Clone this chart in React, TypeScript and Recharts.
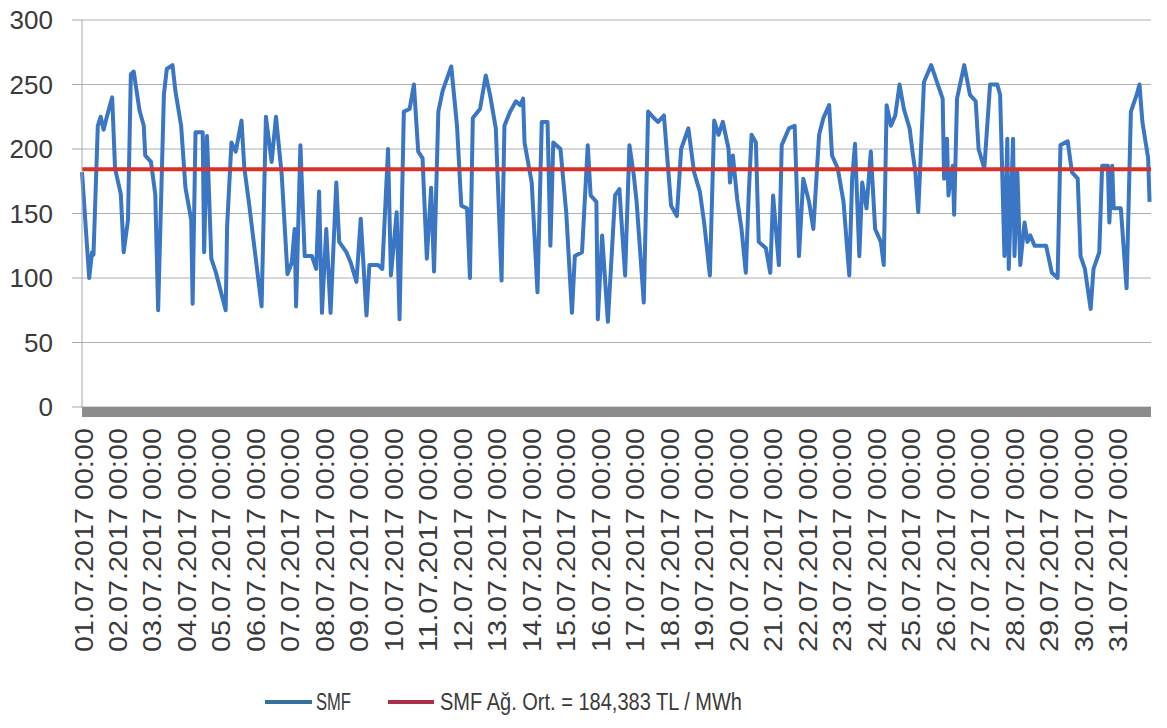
import React from "react";
import { LineChart, Line, XAxis, YAxis, CartesianGrid, ReferenceLine, Legend } from "recharts";

// hourly SMF, July 2017 — [hour of month, TL/MWh] (turning points)
const smfPoints: [number, number][] = [
  [0, 182], [5, 100], [7, 120], [8, 118], [11, 218], [13, 225], [15, 215], [18, 228], [21, 240], [23, 185],
  [27, 165], [29, 120], [32, 145], [34, 258], [36, 260], [40, 230], [43, 218], [44, 195], [48, 190], [51, 165],
  [53, 75], [57, 242], [59, 262], [63, 265], [65, 245], [69, 218], [72, 170], [76, 145], [77, 80], [79, 213],
  [84, 213], [85, 120], [87, 210], [90, 115], [93, 105], [100, 75], [101, 140], [104, 205], [107, 198], [111, 222],
  [113, 185], [116, 160], [125, 78], [128, 225], [132, 190], [135, 225], [139, 180], [143, 103],
  [146, 112], [148, 138], [149, 78], [152, 203], [155, 117], [160, 117], [163, 107], [165, 167], [167, 73], [170, 138],
  [173, 73], [177, 174], [179, 128], [184, 120], [187, 112], [191, 97], [194, 146], [198, 71], [200, 110], [206, 110],
  [209, 107], [213, 200], [215, 102], [219, 151], [221, 68], [224, 229], [228, 231], [231, 250], [234, 198], [237, 193],
  [240, 115], [243, 170], [245, 105], [248, 229], [251, 245], [257, 264], [261, 218], [264, 156], [268, 154], [270, 100],
  [272, 224], [277, 231], [281, 257], [284, 242], [288, 216], [292, 98],
  [294, 218], [298, 229], [302, 237], [305, 234], [307, 239], [308, 205], [313, 174], [317, 89], [320, 221], [324, 221],
  [326, 125], [328, 205], [333, 200], [337, 151], [341, 73], [343, 117], [348, 120], [352, 203], [354, 164], [358, 159],
  [359, 68], [362, 133], [366, 66], [371, 164], [374, 169], [378, 102], [381, 203], [384, 180], [386, 159], [391, 81],
  [394, 229], [398, 224], [401, 221], [405, 226], [407, 198], [410, 156], [414, 148], [417, 200], [422, 216], [426, 182],
  [430, 167], [433, 143], [437, 102],
  [440, 222], [443, 211], [446, 221], [450, 200], [451, 174], [453, 195], [456, 161], [459, 138], [462, 104], [464, 164],
  [466, 211], [469, 205], [471, 128], [476, 123], [479, 104], [481, 164], [485, 110], [487, 203], [492, 216], [496, 218],
  [499, 117], [502, 177], [506, 159], [509, 138], [513, 211], [516, 224], [520, 234], [522, 195], [526, 185], [530, 159],
  [534, 102], [536, 177], [538, 204], [541, 117], [543, 174], [546, 154], [549, 198], [552, 138], [556, 128], [558, 110],
  [560, 234], [563, 218], [566, 226], [569, 250], [572, 231], [576, 216], [578, 198], [580, 182], [582, 151], [586, 252],
  [591, 265], [595, 252], [599, 239], [600, 177], [602, 208], [603, 164], [606, 187], [607, 149], [609, 239], [614, 265],
  [618, 242], [622, 237], [624, 200], [628, 185], [632, 250], [637, 250], [639, 242], [642, 117], [644, 208], [645, 107],
  [648, 208], [649, 117], [651, 182], [653, 110], [656, 143], [658, 128], [660, 133], [663, 125], [671, 125], [675, 104],
  [679, 100], [681, 203], [686, 206], [689, 182], [693, 177], [695, 117], [698, 107], [702, 76], [704, 107], [708, 120],
  [710, 187], [714, 187], [715, 143], [717, 187], [718, 154], [723, 154], [727, 92], [730, 229], [734, 242], [736, 250],
  [738, 221], [742, 193], [743, 159],
];

const SMF_AVG = 184.383;

const dayTicks = [0, 24, 48, 72, 96, 120, 144, 168, 192, 216, 240, 264, 288, 312, 336, 360, 384, 408, 432, 456, 480, 504, 528, 552, 576, 600, 624, 648, 672, 696, 720];
const dayLabels = [
  "01.07.2017 00:00", "02.07.2017 00:00", "03.07.2017 00:00", "04.07.2017 00:00", "05.07.2017 00:00",
  "06.07.2017 00:00", "07.07.2017 00:00", "08.07.2017 00:00", "09.07.2017 00:00", "10.07.2017 00:00",
  "11.07.2017 00:00", "12.07.2017 00:00", "13.07.2017 00:00", "14.07.2017 00:00", "15.07.2017 00:00",
  "16.07.2017 00:00", "17.07.2017 00:00", "18.07.2017 00:00", "19.07.2017 00:00", "20.07.2017 00:00",
  "21.07.2017 00:00", "22.07.2017 00:00", "23.07.2017 00:00", "24.07.2017 00:00", "25.07.2017 00:00",
  "26.07.2017 00:00", "27.07.2017 00:00", "28.07.2017 00:00", "29.07.2017 00:00", "30.07.2017 00:00",
  "31.07.2017 00:00",
];
const yTicks = [0, 50, 100, 150, 200, 250, 300];

const FONT = "'Liberation Sans', Arial, sans-serif";
const BLUE = "#3a76c4";
const RED = "#d8312a";
const TEXT = "#3a3a3a";

const data = smfPoints.map(([h, v]) => ({ h, smf: v }));

const DayTick = (props: any) => {
  const { x, y, payload } = props;
  const label = dayLabels[dayTicks.indexOf(payload.value)] ?? "";
  return (
    <text
      transform={`translate(${x + 1.5},${y + 21}) rotate(-90)`}
      textAnchor="end"
      dominantBaseline="central"
      fontSize={25}
      fontFamily={FONT}
      fill={TEXT}
      textLength={224}
      lengthAdjust="spacingAndGlyphs"
    >
      {label}
    </text>
  );
};

const LegendBox = () => (
  <svg width={1167} height={60} style={{ display: "block" }}>
    <line x1={265} x2={312} y1={34} y2={34} stroke="#35709a" strokeWidth={4} />
    <text x={316} y={42} fontSize={23} fontFamily={FONT} fill={TEXT} textLength={35} lengthAdjust="spacingAndGlyphs">
      SMF
    </text>
    <line x1={388} x2={434} y1={34} y2={34} stroke="#a8304a" strokeWidth={4} />
    <text x={440} y={42} fontSize={23} fontFamily={FONT} fill={TEXT} textLength={302} lengthAdjust="spacingAndGlyphs">
      SMF Ağ. Ort. = 184,383 TL / MWh
    </text>
  </svg>
);

export default function App() {
  return (
    <div style={{ position: "absolute", left: 0, top: 0, width: 1167, height: 728, background: "#fff" }}>
      <LineChart width={1167} height={728} data={data} margin={{ top: 20, right: 16, left: 0, bottom: 0 }}>
        <CartesianGrid vertical={false} stroke="#b0b0b0" />
        <XAxis
          dataKey="h"
          type="number"
          domain={[0, 744]}
          ticks={dayTicks}
          interval={0}
          height={261}
          tickLine={false}
          tickSize={0}
          tickMargin={0}
          tick={<DayTick />}
          axisLine={{ stroke: "#8c8c8c", strokeWidth: 10, transform: "translate(0,5)" }}
        />
        <YAxis
          domain={[0, 300]}
          ticks={yTicks}
          width={82}
          tickSize={10}
          tickMargin={19}
          axisLine={{ stroke: "#a8a8a8" }}
          tickLine={{ stroke: "#a8a8a8" }}
          tick={{ fontSize: 26, fontFamily: FONT, fill: TEXT }}
        />
        <Legend
          verticalAlign="bottom"
          content={<LegendBox />}
          wrapperStyle={{ left: 0, bottom: 0, width: 1167, height: 60 }}
        />
        <Line type="linear" dataKey="smf" stroke={BLUE} strokeWidth={4} strokeLinejoin="round" dot={false} isAnimationActive={false} />
        <ReferenceLine y={SMF_AVG} stroke={RED} strokeWidth={4} />
      </LineChart>
    </div>
  );
}
